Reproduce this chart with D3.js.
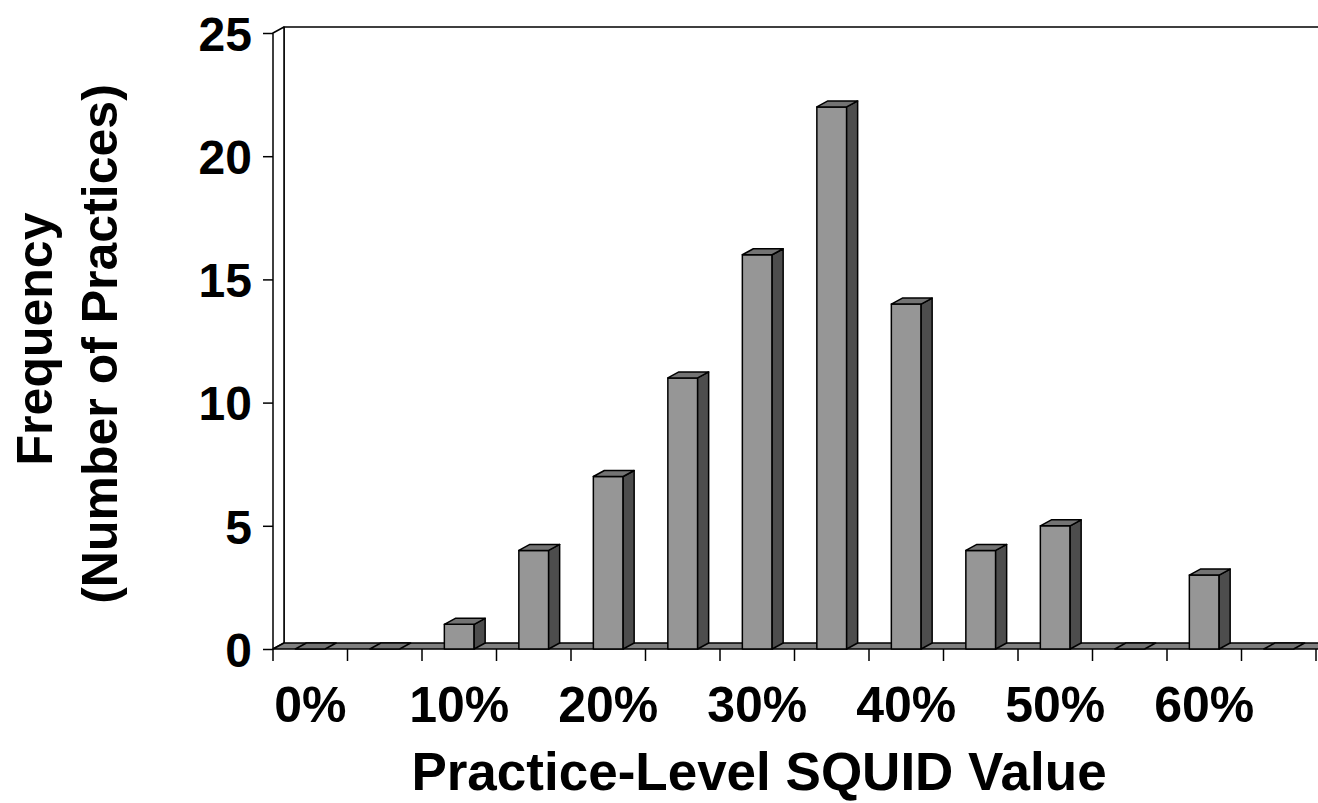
<!DOCTYPE html>
<html>
<head>
<meta charset="utf-8">
<script src="https://cdn.jsdelivr.net/npm/d3@7"></script>
<style>
  body { margin: 0; background: #fff; }
  text { font-family: "Liberation Sans", Arial, sans-serif; font-weight: bold; fill: #000; }
</style>
</head>
<body>
<svg id="chart" width="1318" height="803"></svg>
<script>
// bins of practice-level SQUID value, 5% wide
const bins = ['0%', '5%', '10%', '15%', '20%', '25%', '30%', '35%', '40%', '45%', '50%', '55%', '60%', '65%'];
const frequency = [0, 0, 1, 4, 7, 11, 16, 22, 14, 4, 5, 0, 3, 0];
const binLabels = ['0%', '10%', '20%', '30%', '40%', '50%', '60%'];
const yTicks = [0, 5, 10, 15, 20, 25];

const plotLeft = 273, plotRight = 1316, plotTop = 33, plotBottom = 649;
const dx = 11, dy = -6; // 3d depth offset

const svg = d3.select('#chart');

const x = d3.scaleBand()
  .domain(bins)
  .range([plotLeft, plotRight])
  .paddingInner(0.6)
  .paddingOuter(0.3);

const y = d3.scaleLinear()
  .domain([0, 25])
  .range([plotBottom, plotTop]);

const styled = (sel) => sel
  .attr('stroke', '#000')
  .attr('stroke-width', 1.5)
  .attr('stroke-linejoin', 'round');

// back wall
styled(svg.append('path')
  .attr('d', `M${plotLeft + dx},${plotBottom + dy}V${plotTop + dy}H${plotRight + dx + 20}`)
  .attr('fill', 'none'));

// side wall
styled(svg.append('path')
  .attr('d', `M${plotLeft},${plotBottom}V${plotTop}L${plotLeft + dx},${plotTop + dy}V${plotBottom + dy}Z`)
  .attr('fill', '#fff'));

// floor
styled(svg.append('path')
  .attr('d', `M${plotLeft},${plotBottom}L${plotLeft + dx},${plotBottom + dy}H${plotRight + dx + 20}L${plotRight + 20},${plotBottom}Z`)
  .attr('fill', '#808080'));

// bars
const bar = svg.append('g')
  .selectAll('g')
  .data(bins.map((b, i) => ({ bin: b, value: frequency[i] })))
  .join('g');

bar.each(function (d) {
  const g = d3.select(this);
  const x0 = x(d.bin), w = x.bandwidth(), y1 = y(d.value);
  if (d.value > 0) {
    styled(g.append('rect')
      .attr('x', x0).attr('y', y1)
      .attr('width', w).attr('height', plotBottom - y1)
      .attr('fill', '#969696'));
    styled(g.append('path')
      .attr('d', `M${x0 + w},${y1}L${x0 + w + dx},${y1 + dy}V${plotBottom + dy}L${x0 + w},${plotBottom}Z`)
      .attr('fill', '#4d4d4d'));
  }
  styled(g.append('path')
    .attr('d', `M${x0},${y1}L${x0 + dx},${y1 + dy}H${x0 + w + dx}L${x0 + w},${y1}Z`)
    .attr('fill', '#737373'));
});

// y axis
const yAxis = svg.append('g')
  .attr('transform', `translate(${plotLeft},0)`)
  .call(d3.axisLeft(y).tickValues(yTicks).tickSize(10).tickSizeOuter(0).tickPadding(11));
yAxis.select('.domain').remove();
yAxis.selectAll('line').attr('stroke-width', 1.5);
yAxis.selectAll('text').attr('font-size', 48).attr('dy', '0.36em');

// x ticks on category boundaries
const bounds = bins.map(b => x(b) - x.paddingOuter() * x.step());
bounds.push(bounds[bounds.length - 1] + x.step());
svg.append('g')
  .selectAll('line')
  .data(bounds)
  .join('line')
  .attr('x1', d => d).attr('x2', d => d)
  .attr('y1', plotBottom).attr('y2', plotBottom + 12)
  .attr('stroke', '#000').attr('stroke-width', 1.5);

const xAxis = svg.append('g')
  .attr('transform', `translate(0,${plotBottom})`)
  .call(d3.axisBottom(x).tickValues(binLabels).tickSize(0).tickPadding(0));
xAxis.select('.domain').remove();
xAxis.selectAll('text').attr('font-size', 50).attr('y', 73).attr('dy', 0);

// titles
svg.append('text')
  .attr('x', 759).attr('y', 790)
  .attr('text-anchor', 'middle')
  .attr('font-size', 53)
  .text('Practice-Level SQUID Value');

svg.append('text')
  .attr('transform', 'translate(52,339) rotate(-90)')
  .attr('text-anchor', 'middle')
  .attr('font-size', 50)
  .text('Frequency');

svg.append('text')
  .attr('transform', 'translate(117,344) rotate(-90)')
  .attr('text-anchor', 'middle')
  .attr('font-size', 50)
  .text('(Number of Practices)');
</script>
</body>
</html>
